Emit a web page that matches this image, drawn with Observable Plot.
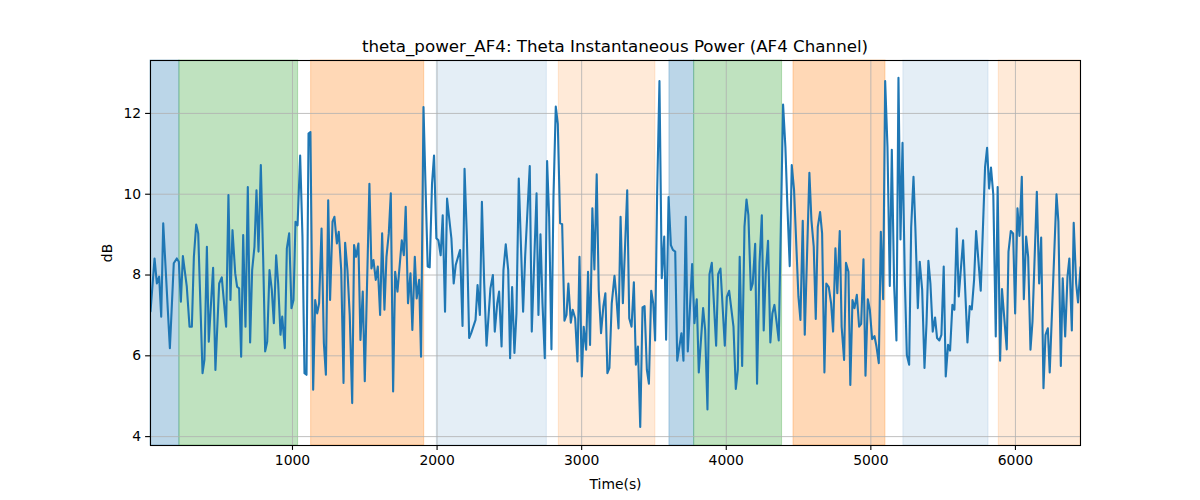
<!DOCTYPE html>
<html>
<head>
<meta charset="utf-8">
<script src="https://cdn.jsdelivr.net/npm/d3@7"></script>
<script src="https://cdn.jsdelivr.net/npm/@observablehq/plot@0.6"></script>
<style>
  body { margin: 0; background: #fff; font-family: "DejaVu Sans", sans-serif; }
  #wrap { width: 1200px; height: 500px; position: relative; }
  #title { box-sizing: border-box; height: 56px; padding-top: 36px; padding-left: 150px; width: 1080px;
           text-align: center; font-size: 16.7px; line-height: 20px; color: #000; white-space: nowrap; }
</style>
</head>
<body>
<div id="wrap">
  <div id="title">theta_power_AF4: Theta Instantaneous Power (AF4 Channel)</div>
  <div id="chart"></div>
</div>
<script>
const time = [18,46,62,78,92,106,152,179,200,214,228,242,269,288,304,318,334,348,378,391,408,421,451,467,493,511,541,557,571,585,604,617,631,645,659,675,691,707,721,737,751,765,781,797,811,825,841,857,871,887,901,917,929,947,961,977,993,1007,1021,1035,1053,1069,1083,1097,1111,1124,1143,1157,1171,1184,1201,1217,1231,1247,1260,1277,1290,1307,1320,1337,1353,1364,1380,1396,1413,1426,1440,1456,1470,1486,1500,1532,1546,1560,1576,1590,1606,1620,1636,1650,1666,1680,1696,1710,1726,1756,1770,1783,1799,1816,1829,1846,1859,1876,1889,1906,1919,1935,1949,1965,1979,1995,2009,2025,2039,2055,2069,2099,2115,2129,2159,2176,2190,2206,2222,2236,2266,2280,2296,2310,2326,2342,2369,2386,2399,2416,2429,2446,2459,2475,2492,2505,2519,2535,2549,2565,2595,2609,2641,2655,2688,2701,2715,2729,2745,2761,2775,2791,2805,2821,2835,2851,2865,2881,2895,2908,2925,2938,2955,2971,2985,3001,3014,3031,3044,3058,3074,3088,3104,3118,3134,3150,3164,3178,3192,3208,3227,3240,3255,3269,3285,3315,3329,3345,3361,3375,3389,3405,3421,3435,3451,3465,3481,3495,3508,3522,3538,3554,3571,3584,3601,3617,3631,3647,3661,3690,3704,3720,3734,3764,3780,3796,3810,3840,3854,3870,3884,3900,3930,3944,3960,3990,4004,4020,4050,4066,4080,4093,4110,4126,4140,4153,4170,4183,4200,4213,4230,4246,4259,4273,4289,4305,4319,4333,4349,4363,4393,4409,4423,4439,4453,4469,4499,4513,4529,4543,4575,4589,4605,4619,4633,4649,4663,4679,4692,4709,4725,4739,4755,4768,4785,4798,4815,4828,4845,4858,4873,4887,4903,4919,4933,4949,4963,4979,4993,5009,5025,5039,5055,5069,5085,5099,5115,5131,5145,5161,5177,5191,5205,5219,5235,5249,5265,5279,5295,5308,5325,5338,5355,5371,5385,5398,5412,5428,5444,5458,5474,5488,5504,5518,5534,5548,5564,5578,5594,5608,5638,5668,5684,5698,5714,5728,5760,5790,5804,5818,5831,5847,5864,5877,5894,5907,5940,5952,5968,5984,5998,6014,6028,6044,6058,6074,6088,6104,6118,6148,6164,6178,6194,6208,6224,6237,6284,6297,6314,6327,6344,6360,6373,6390,6403,6420,6433,6450];
const power = [7.1,8.41,7.79,7.96,6.97,9.28,6.19,8.29,8.41,8.33,7.34,8.47,7.71,6.72,6.72,8.45,9.25,9.03,5.57,5.90,8.70,6.35,8.18,5.65,7.79,7.94,6.72,9.98,7.38,9.11,8.04,7.71,7.67,5.98,8.99,6.72,10.18,6.33,8.12,8.70,10.1,8.58,10.72,8.45,6.11,6.35,8.12,7.63,6.81,8.49,7.79,6.52,6.97,6.19,8.66,9.03,7.18,7.38,9.32,9.23,10.96,8.95,5.57,5.53,11.5,11.54,5.16,7.38,7.05,7.30,9.15,6.31,5.53,9.85,7.38,9.32,9.44,8.78,9.07,8.12,5.33,8.80,8.12,7.0,4.83,8.74,8.45,8.78,6.39,7.59,5.37,10.26,8.16,8.37,7.88,8.21,7.01,9.03,7.14,8.45,9.03,10.02,5.12,8.08,7.59,8.86,8.49,9.69,7.30,8.04,6.64,8.45,7.42,7.88,5.98,12.16,10.35,8.21,8.19,10.26,10.96,8.91,8.86,8.49,9.48,7.09,9.89,8.91,7.79,8.25,8.62,6.74,10.63,8.95,6.44,6.56,6.89,7.75,7.01,9.81,7.79,6.25,7.67,8.0,6.60,7.30,7.59,6.23,8.12,8.76,8.12,5.94,7.70,6.07,7.05,10.39,7.09,8.45,10.70,6.60,10.02,7.01,9.01,7.30,5.94,10.82,9.44,6.16,9.93,12.17,11.74,9.28,9.26,6.87,7.01,7.79,6.82,7.14,6.93,5.86,8.45,5.49,6.72,6.15,8.08,6.27,9.65,8.14,10.49,7.63,6.56,7.22,7.55,5.57,5.70,7.30,7.98,7.46,6.68,9.44,7.30,10.10,6.93,6.72,7.82,5.78,6.23,4.24,7.20,7.23,5.65,5.31,7.61,7.30,6.38,10.02,12.80,7.92,8.95,6.40,9.93,8.74,8.62,8.58,5.88,6.56,5.88,9.44,6.11,8.27,6.81,7.40,5.59,7.18,6.64,4.67,8.02,8.30,6.25,8.02,8.16,6.25,7.46,7.61,6.72,5.18,5.65,8.45,5.75,9.19,9.87,9.48,7.63,7.79,8.77,5.31,8.29,9.48,6.63,8.04,8.85,6.33,7.05,7.26,6.81,6.38,12.22,11.17,9.69,8.22,10.72,10.10,7.47,6.89,9.34,6.52,10.53,9.36,8.70,6.91,9.19,9.56,9.03,5.59,7.79,7.70,7.30,6.60,8.66,7.55,9.09,6.72,5.90,8.30,8.08,5.28,7.38,7.18,7.51,6.72,6.79,8.39,5.51,7.40,7.14,6.41,6.49,6.23,5.82,9.07,7.40,12.80,11.17,7.73,11.10,7.75,6.38,12.88,8.88,11.27,7.88,6.02,5.78,9.19,10.43,9.15,7.18,8.33,7.63,5.70,6.81,8.35,7.79,6.60,6.95,6.44,6.38,6.52,8.21,5.49,6.27,6.13,7.26,7.14,9.15,7.47,8.86,6.33,7.23,7.15,7.88,9.09,7.61,10.67,11.15,10.14,10.66,9.98,6.48,10.18,5.88,7.65,6.16,8.58,9.09,9.03,7.05,9.65,8.97,10.43,7.40,8.95,8.45,6.15,6.85,10.06,7.79,8.93,5.20,6.52,6.68,5.59,10.0,9.32,5.75,7.92,6.48,7.96,8.41,6.63,9.29,7.79,7.32,8.19];

const spanStart = [18, 218, 1129, 1998, 2842, 3607, 3778, 4465, 5225, 5885];
const spanEnd   = [218, 1039, 1911, 2759, 3510, 3778, 4386, 5101, 5814, 6450];
const spanKind  = ["blue", "green", "orange", "lightblue", "lightorange",
                   "blue", "green", "orange", "lightblue", "lightorange"];

const xTicks = [1000, 2000, 3000, 4000, 5000, 6000];
const yTicks = [4, 6, 8, 10, 12];

const kindStyle = {
  blue: {fill: "#1f77b4", opacity: 0.3},
  green: {fill: "#2ca02c", opacity: 0.3},
  orange: {fill: "#ff7f0e", opacity: 0.3},
  lightblue: {fill: "#1f77b4", opacity: 0.12},
  lightorange: {fill: "#ff7f0e", opacity: 0.16}
};

const series = time.map((t, i) => ({t, v: power[i]}));
const spans = spanStart.map((s, i) => ({x1: s, x2: spanEnd[i], kind: spanKind[i]}));

const spanMarks = Object.keys(kindStyle).map(k =>
  Plot.rect(spans.filter(d => d.kind === k), {
    x1: "x1", x2: "x2",
    fill: kindStyle[k].fill, fillOpacity: kindStyle[k].opacity,
    stroke: kindStyle[k].fill, strokeOpacity: kindStyle[k].opacity, strokeWidth: 1
  })
);

const fmt = d => String(d);

const chart = Plot.plot({
  width: 1200,
  height: 444,
  marginTop: 4,
  marginBottom: 55,
  marginLeft: 150,
  marginRight: 120,
  style: {fontFamily: "DejaVu Sans", fontSize: "13.9px", color: "#000", background: "#fff"},
  x: {domain: [18, 6450], ticks: xTicks, tickFormat: fmt},
  y: {domain: [3.78, 13.31], ticks: yTicks, tickFormat: fmt},
  marks: [
    ...spanMarks,
    Plot.gridX(xTicks, {stroke: "#b0b0b0", strokeOpacity: 1, strokeWidth: 0.8}),
    Plot.gridY(yTicks, {stroke: "#b0b0b0", strokeOpacity: 1, strokeWidth: 0.8}),
    Plot.line(series, {x: "t", y: "v", stroke: "#1f77b4", strokeWidth: 2.1, clip: true}),
    Plot.frame({stroke: "#000", strokeWidth: 1.1}),
    Plot.axisX(xTicks, {tickSize: 4.9, tickPadding: 4.5, strokeWidth: 1.1, fontSize: "13.9px", tickFormat: fmt,
      label: "Time(s)", labelAnchor: "center", labelArrow: "none", labelOffset: 43}),
    Plot.axisY(yTicks, {tickSize: 4.9, tickPadding: 4.5, strokeWidth: 1.1, fontSize: "13.9px", tickFormat: fmt,
      label: "dB", labelAnchor: "center", labelArrow: "none", labelOffset: 48})
  ]
});
document.getElementById("chart").appendChild(chart);
</script>
</body>
</html>
